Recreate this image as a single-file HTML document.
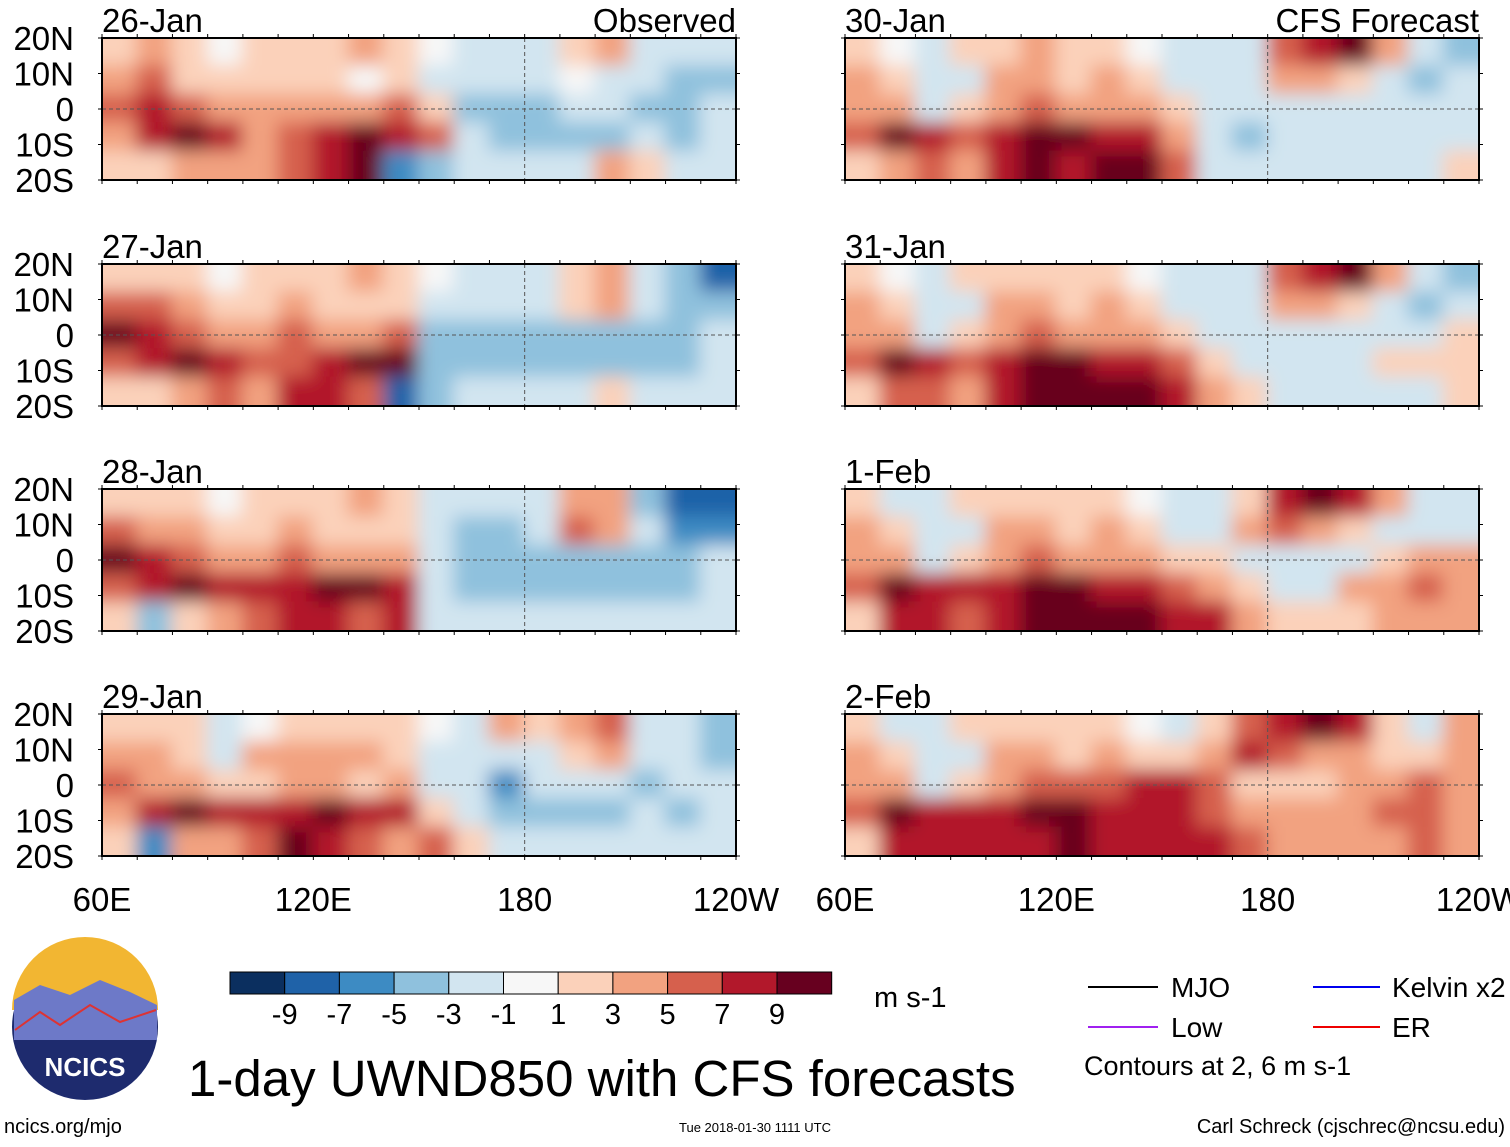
<!DOCTYPE html>
<html><head><meta charset="utf-8">
<style>
body{margin:0;background:#fff;width:1510px;height:1142px;overflow:hidden;font-family:"Liberation Sans",sans-serif}
svg text{font-family:"Liberation Sans",sans-serif}
</style></head>
<body>
<svg id="fig" width="1510" height="1142" viewBox="0 0 1510 1142" xmlns="http://www.w3.org/2000/svg">
<defs><filter id="bl" filterUnits="userSpaceOnUse" x="-20" y="-20" width="680" height="190"><feGaussianBlur stdDeviation="9"/></filter>
<clipPath id="c0"><rect x="0" y="0" width="634" height="142"/></clipPath></defs>
<g id="panels"></g>
<g id="legend"></g>
</svg>
<script>
const panelTitles=["26-Jan","27-Jan","28-Jan","29-Jan","30-Jan","31-Jan","1-Feb","2-Feb"];
const lonTicks=["60E","120E","180","120W"];
const latTicks=["20N","10N","0","10S","20S"];
const levels=[-9,-7,-5,-3,-1,1,3,5,7,9];
const colors=["#0b2f5f","#1f62a8","#3d8bc3","#8fc1dd","#d2e5f0","#f7f7f7","#fbd1ba","#f2a280","#d6604d","#b2182b","#67001f"];
const p0=[[2,3,1,0,1,2,1,3,2,0,-2,-2,-1,2,3,-1,-2,-2],[4,5,2,1,1,2,1,0,1,-1,-2,-2,-1,0,-2,-2,-3,-3],[6,8,5,3,3,4,3,4,6,2,-3,-3,-3,-2,-2,-3,-3,-2],[3,7,9,7,4,5,8,9,8,6,-2,-3,-4,-3,-3,-2,-3,-2],[1,2,3,4,3,6,8,9,-6,-3,-2,-1,-2,-1,3,1,-1,-2]];
const p1=[[1,2,1,0,1,2,1,3,1,0,-1,-1,-1,2,3,-1,-4,-7],[6,5,3,1,2,3,1,1,1,-2,-2,-2,-1,1,3,-1,-3,-4],[9,8,6,4,3,5,3,4,6,-3,-4,-3,-3,-3,-3,-3,-3,-2],[5,7,9,7,5,6,8,9,9,-3,-4,-3,-4,-3,-3,-3,-3,-2],[1,2,3,5,4,7,8,5,-8,-3,-2,-2,-2,-1,1,-1,-1,-2]];
const p2=[[2,2,1,0,1,2,1,3,1,-1,-1,-2,-1,3,4,-3,-7,-8],[5,4,3,1,2,3,2,1,1,-2,-3,-3,-2,5,3,-2,-5,-6],[9,8,6,4,3,5,3,4,4,-2,-4,-3,-3,-3,-3,-4,-3,-2],[5,7,9,8,7,7,9,9,7,-2,-4,-4,-4,-4,-3,-3,-3,-2],[1,-3,2,4,5,7,8,6,8,-1,-2,-2,-2,-1,-1,-1,-1,-2]];
const p3=[[1,2,1,-1,0,2,1,2,1,0,-1,3,1,3,6,-2,-2,-3],[3,3,2,-1,3,4,3,4,1,-1,-2,-2,-1,1,3,-1,-2,-3],[5,3,3,1,2,3,3,2,3,-1,-2,-5,-2,-2,-2,-3,-2,-2],[4,7,9,8,7,8,9,7,7,2,-2,-3,-3,-3,-3,-2,-3,-2],[1,-6,3,4,6,9,8,6,3,6,2,-1,-2,-1,-1,-1,-1,-2]];
const p4=[[1,0,-1,1,2,3,1,2,0,-1,-2,-1,5,7,9,3,-2,-3],[3,2,-2,-1,3,4,2,3,1,-1,-2,-2,3,3,2,-2,-3,-2],[4,3,-1,2,4,6,4,4,3,1,-2,-2,-1,-2,-1,-2,-2,-1],[5,9,7,6,8,9,9,8,7,4,-1,-3,-2,-2,-2,-2,-2,-1],[2,4,5,4,8,9,8,9,9,5,-1,-2,-2,-2,-1,-1,-1,2]];
const p5=[[1,0,-1,1,2,2,1,2,0,-1,-2,-1,5,7,9,3,-2,-3],[3,2,-2,-1,3,3,2,3,1,-1,-2,-2,3,3,2,-1,-3,-2],[4,3,-1,2,4,6,4,3,3,1,-1,-2,-1,-1,-1,-1,-1,1],[5,9,8,6,8,9,9,8,8,5,2,-1,-1,-1,-2,2,2,1],[2,5,6,4,8,9,9,9,9,7,3,1,-1,-1,-1,-1,-1,1]];
const p6=[[1,-1,-1,1,2,2,1,2,0,-1,-2,2,8,9,7,3,-2,-2],[3,2,-2,-1,3,3,2,3,1,-1,-2,4,6,3,2,-1,-2,-1],[4,3,-1,2,4,6,4,3,3,2,1,-1,-1,-1,-1,2,4,3],[5,9,8,7,8,9,9,8,8,6,4,2,-1,-1,3,4,5,3],[2,7,8,6,8,9,9,9,9,8,7,3,1,1,2,3,4,3]];
const p7=[[1,-1,-1,1,2,2,1,2,0,-1,1,5,8,9,7,2,-1,3],[3,2,-2,-1,3,3,2,3,1,2,4,7,6,4,3,1,1,3],[4,3,-1,2,4,6,5,6,7,7,5,2,2,2,3,4,5,4],[5,9,8,7,8,9,9,8,8,8,6,4,3,3,4,5,6,4],[2,7,8,7,7,8,9,8,7,8,7,5,3,3,4,4,5,4]];
const panelData=[p0,p1,p2,p3,p4,p5,p6,p7];

const NS="http://www.w3.org/2000/svg";
function mk(tag,attrs,parent){const e=document.createElementNS(NS,tag);for(const k in attrs)e.setAttribute(k,attrs[k]);parent.appendChild(e);return e;}
function colorFor(v){
  if(v===0)return colors[5];
  let i=0;while(i<levels.length&&v>=levels[i])i++;
  if(v<0){i=0;while(i<levels.length&&v>levels[i])i++;}
  return colors[i];
}
const PW=634,PH=142;
const xScale=lon=>(lon-60)/180*PW;
const yScale=lat=>(20-lat)/40*PH;
const panels=document.getElementById('panels');
const px=[102,845],py=[38,264,489,714];
panelData.forEach((data,pi)=>{
  const col=pi<4?0:1,row=pi%4;
  const g=mk('g',{transform:`translate(${px[col]},${py[row]})`},panels);
  
  
  const hm=mk('g',{'clip-path':'url(#c0)'},g);
  const inner=mk('g',{filter:'url(#bl)'},hm);
  mk('rect',{x:-20,y:-20,width:PW+40,height:PH+40,fill:'#f7f7f7'},inner);
  const nr=data.length,nc=data[0].length;
  data.forEach((r,ri)=>r.forEach((v,ci)=>{
    const lon0=60+ci*180/nc,lat0=20-ri*40/nr;
    let x=xScale(lon0)-1,y=yScale(lat0)-1,w=xScale(60+180/nc)+2,h=PH/nr+2;
    if(ci===0){x-=20;w+=20;} if(ci===nc-1)w+=20;
    if(ri===0){y-=20;h+=20;} if(ri===nr-1)h+=20;
    const c=mk('rect',{x:x,y:y,width:w,height:h,fill:colorFor(v)},inner);
    
    
  }));
  mk('line',{x1:0,x2:PW,y1:yScale(0),y2:yScale(0),stroke:'#555','stroke-dasharray':'4,3','stroke-width':1},g);
  mk('line',{x1:xScale(180),x2:xScale(180),y1:0,y2:PH,stroke:'#555','stroke-dasharray':'4,3','stroke-width':1},g);
  mk('rect',{x:0,y:0,width:PW,height:PH,fill:'none',stroke:'#000','stroke-width':2},g);
  for(let l=60;l<=240;l+=10){const x=xScale(l);mk('line',{x1:x,x2:x,y1:0,y2:-4,stroke:'#000'},g);mk('line',{x1:x,x2:x,y1:PH,y2:PH+4,stroke:'#000'},g);}
  for(let la=-20;la<=20;la+=10){const y=yScale(la);mk('line',{x1:0,x2:-4,y1:y,y2:y,stroke:'#000'},g);mk('line',{x1:PW,x2:PW+4,y1:y,y2:y,stroke:'#000'},g);}
  const t=mk('text',{x:0,y:-6,'font-size':33},g);t.textContent=panelTitles[pi];
  
  
  if(col===0){latTicks.forEach((s,i)=>{const tl=mk('text',{x:-28,y:yScale(20-i*10)+12,'font-size':33,'text-anchor':'end'},g);tl.textContent=s;
    
    });}
  if(row===0){const h=mk('text',{x:PW,y:-6,'font-size':33,'text-anchor':'end'},g);h.textContent=col===0?'Observed':'CFS Forecast';
    
    }
  if(row===3){lonTicks.forEach((s,i)=>{const tl=mk('text',{x:xScale(60+i*60),y:PH+55,'font-size':33,'text-anchor':'middle'},g);tl.textContent=s;
    
    });}
});
const lg=document.getElementById('legend');
colors.forEach((c,i)=>{const r=mk('rect',{x:230+i*54.7,y:972,width:54.7,height:22,fill:c,stroke:'#000','stroke-width':1},lg);
  
  });
levels.forEach((v,i)=>{const t=mk('text',{x:230+(i+1)*54.7,y:1024,'font-size':29,'text-anchor':'middle'},lg);t.textContent=v;
  
  });
</script>
<svg style="position:absolute;left:0;top:0" width="1510" height="1142">
<text x="874" y="1007" font-size="29">m s-1</text>
<text x="188" y="1096" font-size="51">1-day UWND850 with CFS forecasts</text>
<g>
<circle cx="85" cy="1027" r="73" fill="#1e2b6e"/>
<path d="M12,1010 A73,73 0 0 1 158,1010 Z" fill="#f2b632"/>
<path d="M14,1000 L40,985 L70,995 L100,980 L130,992 L157,1005 L157,1040 L14,1040 Z" fill="#6d79c8"/>
<path d="M15,1030 L40,1012 L60,1025 L90,1005 L120,1022 L156,1010" stroke="#d33" stroke-width="2" fill="none"/>
<text x="85" y="1076" font-size="26" font-weight="bold" fill="#fff" text-anchor="middle">NCICS</text>
</g>
<g>
<line x1="1088" x2="1158" y1="987" y2="987" stroke="#000" stroke-width="2"/><text x="1171" y="997" font-size="28">MJO</text>
<line x1="1313" x2="1380" y1="987" y2="987" stroke="#0000ee" stroke-width="2"/><text x="1392" y="997" font-size="28">Kelvin x2</text>
<line x1="1088" x2="1158" y1="1027" y2="1027" stroke="#a020f0" stroke-width="2"/><text x="1171" y="1037" font-size="28">Low</text>
<line x1="1313" x2="1380" y1="1027" y2="1027" stroke="#ee0000" stroke-width="2"/><text x="1392" y="1037" font-size="28">ER</text>
<text x="1084" y="1075" font-size="27">Contours at 2, 6 m s-1</text>
</g>
<text x="4" y="1133" font-size="20">ncics.org/mjo</text>
<text x="755" y="1132" font-size="13" text-anchor="middle">Tue 2018-01-30 1111 UTC</text>
<text x="1505" y="1133" font-size="20" text-anchor="end">Carl Schreck (cjschrec@ncsu.edu)</text>
</svg>
</body></html>
